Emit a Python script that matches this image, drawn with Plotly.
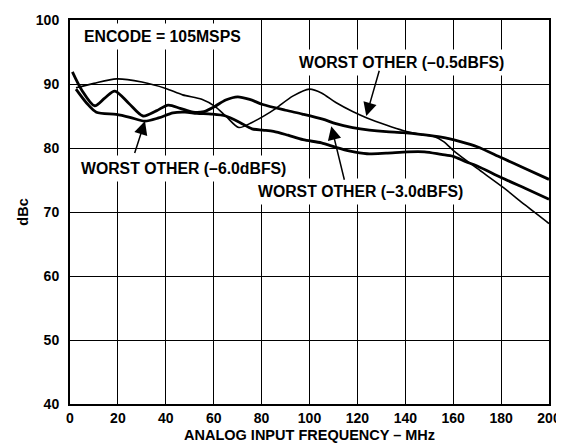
import plotly.graph_objects as go

# analog input frequency (MHz) / worst other spur (dBc)
freq_05 = [2.5, 10, 19.5, 30, 40, 47, 55, 60.5, 65, 70.5, 76, 80.5, 86, 93, 100, 105,
           111, 118, 124, 132, 139, 147, 152, 156, 161, 170, 181, 190, 200]
dbc_05 = [89.4, 90.1, 90.8, 90.3, 89.3, 88.3, 87.6, 86.5, 85.0, 83.2, 84.0, 84.9, 86.2,
          88.1, 89.2, 88.6, 87.1, 85.7, 84.7, 83.6, 82.75, 82.1, 81.8, 81.0, 79.3, 76.8,
          73.8, 71.1, 68.2]

freq_30 = [1, 5, 10.3, 14.5, 18.7, 24.5, 30.5, 36, 41, 46, 51.4, 56, 60.5, 65, 70, 75,
           80.5, 90, 97, 105.5, 111, 118, 125, 132, 139, 147, 155, 163, 170, 180, 190, 200]
dbc_30 = [91.9, 89.0, 86.6, 87.8, 88.9, 87.0, 85.0, 85.8, 86.7, 86.2, 85.6, 85.7, 86.5,
          87.5, 88.0, 87.6, 86.8, 85.9, 85.3, 84.5, 83.8, 83.2, 82.8, 82.55, 82.4, 82.1,
          81.7, 81.0, 80.2, 78.5, 76.8, 75.1]

freq_60 = [2.5, 7, 11, 19.3, 25, 31.2, 37, 43, 48, 53, 59, 65, 70.9, 76, 80.5, 85, 91,
           97.3, 105, 111, 117, 124, 132, 141, 148, 155, 160, 165, 170, 180, 190, 200]
dbc_60 = [89.2, 87.0, 85.6, 85.25, 84.8, 84.2, 84.7, 85.5, 85.6, 85.4, 85.3, 85.0, 84.0,
          83.0, 82.8, 82.6, 82.0, 81.3, 80.8, 80.1, 79.5, 79.1, 79.2, 79.4, 79.4, 79.0,
          78.7, 77.9, 77.2, 75.4, 73.7, 72.0]

FONT = "Liberation Sans, Arial, sans-serif"

fig = go.Figure()
for f, d, w in [(freq_05, dbc_05, 1.6), (freq_30, dbc_30, 2.8), (freq_60, dbc_60, 2.8)]:
    fig.add_trace(
        go.Scatter(
            x=f, y=d, mode="lines",
            line=dict(color="black", width=w, shape="spline", smoothing=0.8),
            showlegend=False, hoverinfo="skip",
        )
    )

# labels (white box hides the grid behind the text)
labels = [
    ("ENCODE = 105MSPS", 38.7, 97.5),
    ("WORST OTHER (\u20130.5dBFS)", 138.4, 93.4),
    ("WORST OTHER (\u20136.0dBFS)", 47.4, 76.8),
    ("WORST OTHER (\u20133.0dBFS)", 121.5, 73.25),
]
for text, x, y in labels:
    fig.add_annotation(
        x=x, y=y, text=text, showarrow=False, bgcolor="white", borderpad=4,
        font=dict(family=FONT, size=15.8, color="black", weight="bold"),
    )

# pointer arrows: (tip x, tip y, tail x, tail y)
arrows = [(123.7, 85.0, 129.3, 92.3), (109.1, 83.4, 114.7, 74.8), (31.3, 84.2, 26.8, 79.0)]
for x, y, ax, ay in arrows:
    fig.add_annotation(
        x=x, y=y, ax=ax, ay=ay, axref="x", ayref="y", text="", showarrow=True,
        arrowhead=2, arrowsize=1.8, arrowwidth=1.5, arrowcolor="black",
    )

# x title as a paper annotation so it can sit tight under the tick labels
fig.add_annotation(
    x=0.5, y=-31 / 384, xref="paper", yref="paper", yanchor="middle",
    text="ANALOG INPUT FREQUENCY \u2013 MHz", showarrow=False,
    font=dict(family=FONT, size=14.5, color="black", weight="bold"),
)

axis_common = dict(
    showgrid=True, gridcolor="black", gridwidth=1,
    showline=True, linecolor="black", linewidth=2, mirror=True,
    ticks="", zeroline=False, automargin=False,
    tickfont=dict(family=FONT, size=14, color="black", weight="bold"),
)
fig.update_xaxes(range=[0, 200], dtick=20, ticklabelstandoff=0, **axis_common)
fig.update_yaxes(
    range=[40, 100], dtick=10, ticklabelstandoff=6,
    title=dict(text="dBc", standoff=4,
               font=dict(family=FONT, size=14.5, color="black", weight="bold")),
    **axis_common,
)
fig.update_layout(
    width=564, height=443,
    margin=dict(l=62, r=23, t=12, b=47),
    plot_bgcolor="white", paper_bgcolor="white",
)
fig.write_html("out.html")
